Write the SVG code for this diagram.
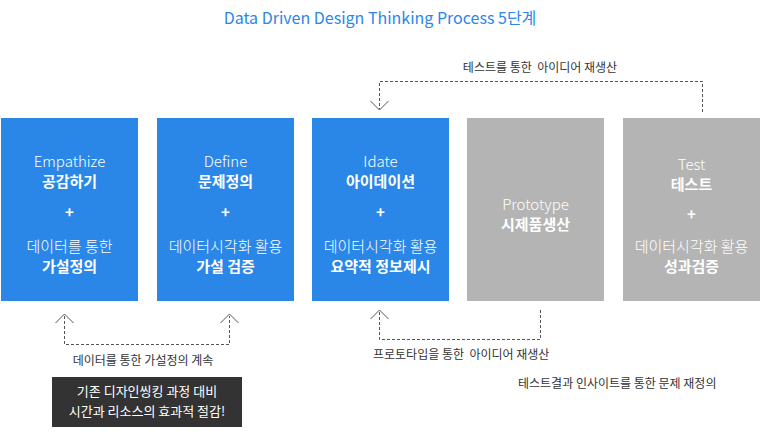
<svg xmlns="http://www.w3.org/2000/svg" width="760" height="432" viewBox="0 0 760 432">
<defs>
<style>
text{font-family:"Noto Sans CJK KR","Noto Sans",sans-serif;}
.blue{fill:#2a87e8;}
.gray{fill:#b4b4b4;}
.lt{fill:#fff;font-size:15px;font-weight:300;text-anchor:middle;}
.bd{fill:#fff;font-size:15px;font-weight:700;text-anchor:middle;}
.lbl{fill:#333;font-size:12px;white-space:pre;}
.dash{fill:none;stroke:#555;stroke-width:1;stroke-dasharray:3 2;}
.head{fill:none;stroke:#555;stroke-width:1;}
</style>
</defs>
<rect width="760" height="432" fill="#fff"/>
<text x="380" y="24" font-size="16" fill="#2a86e8" text-anchor="middle">Data Driven Design Thinking Process 5단계</text>

<g id="empathize">
<rect class="blue" x="1" y="118" width="137" height="183"/>
<text class="lt" x="69.5" y="167">Empathize</text>
<text class="bd" x="69.5" y="187">공감하기</text>
<text class="bd" x="69.5" y="218">+</text>
<text class="lt" x="69.5" y="252">데이터를 통한</text>
<text class="bd" x="69.5" y="272">가설정의</text>
</g>
<g id="define">
<rect class="blue" x="157" y="118" width="137" height="183"/>
<text class="lt" x="225.5" y="167">Define</text>
<text class="bd" x="225.5" y="187">문제정의</text>
<text class="bd" x="225.5" y="218">+</text>
<text class="lt" x="225.5" y="252">데이터시각화 활용</text>
<text class="bd" x="225.5" y="272">가설 검증</text>
</g>
<g id="idate">
<rect class="blue" x="312" y="118" width="137" height="183"/>
<text class="lt" x="380.5" y="167">Idate</text>
<text class="bd" x="380.5" y="187">아이데이션</text>
<text class="bd" x="380.5" y="218">+</text>
<text class="lt" x="380.5" y="252">데이터시각화 활용</text>
<text class="bd" x="380.5" y="272">요약적 정보제시</text>
</g>
<g id="prototype">
<rect class="gray" x="467" y="118" width="137" height="183"/>
<text class="lt" x="535.5" y="210">Prototype</text>
<text class="bd" x="535.5" y="230">시제품생산</text>
</g>
<g id="test">
<rect class="gray" x="623" y="118" width="137" height="183"/>
<text class="lt" x="691.5" y="170">Test</text>
<text class="bd" x="691.5" y="190">테스트</text>
<text class="bd" x="691.5" y="220">+</text>
<text class="lt" x="691.5" y="252">데이터시각화 활용</text>
<text class="bd" x="691.5" y="272">성과검증</text>
</g>

<g id="connectors">
<path class="dash" d="M702.5 112 V81.5 H379.5 V109"/>
<path class="head" d="M370.5 101 L379.5 110 L388.5 101"/>
<path class="dash" d="M64.5 316 V344.5 H229.5 V316"/>
<path class="head" d="M55.5 323 L64.5 314 L73.5 323"/>
<path class="head" d="M220.5 323 L229.5 314 L238.5 323"/>
<path class="dash" d="M540.5 310 V339.5 H379.5 V312"/>
<path class="head" d="M370.5 319 L379.5 310 L388.5 319"/>
</g>

<g id="labels">
<text class="lbl" x="540" y="72" text-anchor="middle">테스트를 통한  아이디어 재생산</text>
<text class="lbl" x="143" y="365" text-anchor="middle">데이터를 통한 가설정의 계속</text>
<text class="lbl" x="373" y="359">프로토타입을 통한  아이디어 재생산</text>
<text class="lbl" x="518" y="388">테스트결과 인사이트를 통한 문제 재정의</text>
</g>

<g id="note">
<rect x="52" y="377" width="190" height="50" fill="#333"/>
<text x="147" y="396" font-size="13" fill="#fff" text-anchor="middle">기존 디자인씽킹 과정 대비</text>
<text x="147" y="416" font-size="13" fill="#fff" text-anchor="middle">시간과 리소스의 효과적 절감!</text>
</g>
</svg>
